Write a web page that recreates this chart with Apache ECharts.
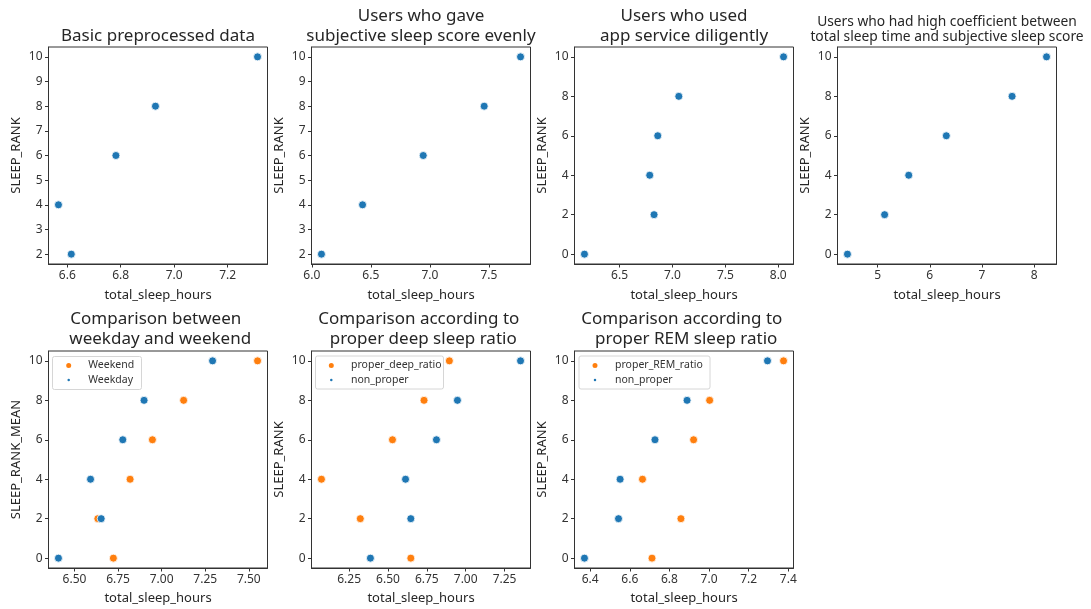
<!DOCTYPE html>
<html><head><meta charset="utf-8">
<script src="https://cdn.jsdelivr.net/npm/echarts@6/dist/echarts.min.js"></script>
<style>html,body{margin:0;padding:0;background:#fff}#c{width:1091px;height:609px}</style>
</head><body><div id="c"></div><script>
// ---------- data ----------
const rank5 = [2, 4, 6, 8, 10];
const rank6 = [0, 2, 4, 6, 8, 10];

const basicX = [6.615, 6.567, 6.782, 6.930, 7.312];
const evenlyX = [6.082, 6.430, 6.944, 7.460, 7.768];
const diligentX = [6.168, 6.826, 6.785, 6.861, 7.060, 8.050];
const coefX = [4.423, 5.135, 5.597, 6.317, 7.577, 8.237];

const weekendX = [6.723, 6.634, 6.819, 6.947, 7.126, 7.550];
const weekdayX = [6.408, 6.653, 6.592, 6.777, 6.899, 7.292];
const deepProperX = [6.647, 6.322, 6.072, 6.529, 6.732, 6.895];
const deepNonX = [6.387, 6.647, 6.613, 6.812, 6.947, 7.353];
const remProperX = [6.712, 6.858, 6.664, 6.922, 7.003, 7.376];
const remNonX = [6.371, 6.543, 6.551, 6.727, 6.889, 7.295];

const ticks1X = ['6.6', '6.8', '7.0', '7.2'];
const ticks2X = ['6.0', '6.5', '7.0', '7.5'];
const ticks3X = ['6.5', '7.0', '7.5', '8.0'];
const ticks4X = ['5', '6', '7', '8'];
const ticks5X = ['6.50', '6.75', '7.00', '7.25', '7.50'];
const ticks6X = ['6.25', '6.50', '6.75', '7.00', '7.25'];
const ticks7X = ['6.4', '6.6', '6.8', '7.0', '7.2', '7.4'];
const ticksY1 = ['2', '3', '4', '5', '6', '7', '8', '9', '10'];
const ticksY2 = ['0', '2', '4', '6', '8', '10'];

const titles = [
  'Basic preprocessed data',
  'Users who gave\nsubjective sleep score evenly',
  'Users who used\napp service diligently',
  'Users who had high coefficient between\ntotal sleep time and subjective sleep score',
  'Comparison between \n weekday and weekend',
  'Comparison according to \n proper deep sleep ratio',
  'Comparison according to \n proper REM sleep ratio'
];

// ---------- style ----------
const BLUE = '#1f77b4', ORANGE = '#ff7f0e';
const FONT = '"Noto Sans", "Open Sans", sans-serif';
const TXT = '#262626';
const colLeft = [48.5, 311.5, 574.5, 837.5];
const rowTop = [47, 351];
const GW = 219, GH = 217;

const panels = [
  {title: titles[0], yName: 'SLEEP_RANK', xt: ticks1X, yt: ticksY1, s: [{name: 'Basic', x: basicX, y: rank5, c: BLUE}]},
  {title: titles[1], yName: 'SLEEP_RANK', xt: ticks2X, yt: ticksY1, s: [{name: 'Evenly', x: evenlyX, y: rank5, c: BLUE}]},
  {title: titles[2], yName: 'SLEEP_RANK', xt: ticks3X, yt: ticksY2, s: [{name: 'Diligent', x: diligentX, y: rank6, c: BLUE}]},
  {title: titles[3], yName: 'SLEEP_RANK', xt: ticks4X, yt: ticksY2, small: true, s: [{name: 'Coef', x: coefX, y: rank6, c: BLUE}]},
  {title: titles[4], yName: 'SLEEP_RANK_MEAN', xt: ticks5X, yt: ticksY2, legend: true,
    s: [{name: 'Weekend', x: weekendX, y: rank6, c: ORANGE}, {name: 'Weekday', x: weekdayX, y: rank6, c: BLUE}]},
  {title: titles[5], yName: 'SLEEP_RANK', xt: ticks6X, yt: ticksY2, legend: true,
    s: [{name: 'proper_deep_ratio', x: deepProperX, y: rank6, c: ORANGE}, {name: 'non_proper', x: deepNonX, y: rank6, c: BLUE}]},
  {title: titles[6], yName: 'SLEEP_RANK', xt: ticks7X, yt: ticksY2, legend: true,
    s: [{name: 'proper_REM_ratio', x: remProperX, y: rank6, c: ORANGE}, {name: 'non_proper ', x: remNonX, y: rank6, c: BLUE}]}
];

function extent(arrs) {
  const all = [].concat(...arrs);
  const mn = Math.min(...all), mx = Math.max(...all), r = mx - mn;
  return [mn - 0.05 * r, mx + 0.05 * r];
}

const grid = [], xAxis = [], yAxis = [], series = [], title = [], legend = [], graphic = [];
// legend frame [x, y, w, h], marker centre x, text start x
const legendFrames = [[52.5, 356.5, 89, 33, 67.7, 87.3], [315.5, 356, 128, 33, 330.3, 350], [579, 356, 131, 33, 594, 614]];

panels.forEach((p, i) => {
  const row = i < 4 ? 0 : 1, col = i < 4 ? i : i - 4;
  const left = colLeft[col], top = rowTop[row];
  grid.push({left: left, top: top, width: GW, height: GH, show: true, borderColor: '#333', borderWidth: 1, backgroundColor: 'transparent'});
  const xe = extent(p.s.map(s => s.x));
  const ye = extent(p.s.map(s => s.y));
  const xdec = (p.xt[0].split('.')[1] || '').length;
  const xv = p.xt.map(Number), yv = p.yt.map(Number);
  xAxis.push({
    type: 'value', gridIndex: i, min: xe[0], max: xe[1],
    name: 'total_sleep_hours', nameLocation: 'middle', nameGap: row === 0 ? 25 : 24,
    nameTextStyle: {fontFamily: FONT, fontSize: 13, color: TXT},
    axisLine: {show: true, onZero: false, lineStyle: {color: '#333', width: 1}},
    axisTick: {show: true, length: 3.5, lineStyle: {color: '#333'}, customValues: xv},
    axisLabel: {customValues: xv, margin: 6, fontFamily: FONT, fontSize: 12, color: '#333',
      formatter: v => Number(v).toFixed(xdec)},
    splitLine: {show: false}
  });
  yAxis.push({
    type: 'value', gridIndex: i, min: ye[0], max: ye[1],
    name: p.yName, nameLocation: 'middle', nameGap: 26, nameRotate: 90,
    nameTextStyle: {fontFamily: FONT, fontSize: 13, color: TXT},
    axisLine: {show: true, onZero: false, lineStyle: {color: '#333', width: 1}},
    axisTick: {show: true, length: 3.5, lineStyle: {color: '#333'}, customValues: yv},
    axisLabel: {customValues: yv, margin: 6, fontFamily: FONT, fontSize: 12, color: '#333',
      formatter: v => String(Math.round(v))},
    splitLine: {show: false}
  });
  p.s.forEach(s => {
    series.push({
      type: 'scatter', name: s.name, xAxisIndex: i, yAxisIndex: i,
      data: s.x.map((x, k) => [x, s.y[k]]),
      symbol: 'circle', symbolSize: 8,
      itemStyle: {color: s.c, borderColor: '#fff', borderWidth: 0.8, opacity: 1},
      emphasis: {disabled: true}, z: 3
    });
  });
  const twoLine = p.title.indexOf('\n') >= 0;
  const fs = p.small ? 13.8 : 17;
  const lh = p.small ? 15 : 19.5;
  const titleTop = row === 0 ? (twoLine ? (p.small ? 36.7 - lh * 1.5 : 36 - lh * 1.5) : 36 - lh / 2) : 339 - lh * 1.5;
  title.push({
    text: p.title, left: left + GW / 2, top: titleTop, textAlign: 'center', padding: 0,
    textStyle: {fontFamily: FONT, fontSize: fs, fontWeight: 'normal', color: TXT, lineHeight: lh}
  });
  if (p.legend) {
    const f = legendFrames[col];
    graphic.push({type: 'rect', shape: {x: f[0], y: f[1], width: f[2], height: f[3], r: 2}, z: 10,
      style: {fill: 'rgba(255,255,255,0.8)', stroke: '#d6d6d6', lineWidth: 1}});
    [0, 1].forEach(k => {
      const sz = k === 0 ? 7 : 4.5;
      const lx = f[4] - sz / 2;
      legend.push({
        data: [{name: p.s[k].name, icon: 'circle'}],
        left: lx, top: (k === 0 ? 366 : 380.5) - 6, padding: 0, z: 20,
        itemWidth: sz, itemHeight: sz, itemGap: 0, selectedMode: false,
        textStyle: {fontFamily: FONT, fontSize: 10.5, color: '#333', padding: [0, 0, 0, f[5] - (lx + sz + 5)]}
      });
    });
  }
});

const chart = echarts.init(document.getElementById('c'), null, {renderer: 'canvas'});
chart.setOption({
  animation: false, backgroundColor: '#fff',
  title, grid, xAxis, yAxis, series, legend, graphic
});
</script></body></html>
